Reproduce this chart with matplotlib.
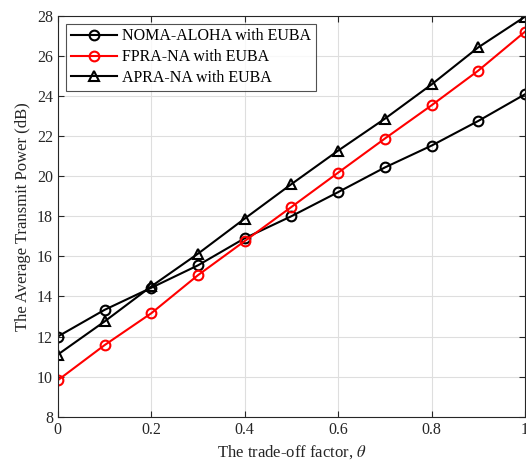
import numpy as np
import matplotlib
matplotlib.use('Agg')
import matplotlib.pyplot as plt

theta = [0, 0.1, 0.2, 0.3, 0.4, 0.5, 0.6, 0.7, 0.8, 0.9, 1.0]
noma_aloha = [12.0, 13.33, 14.43, 15.55, 16.9, 18.0, 19.2, 20.43, 21.52, 22.75, 24.08]
fpra_na = [9.82, 11.57, 13.16, 15.06, 16.76, 18.46, 20.17, 21.87, 23.53, 25.26, 27.2]
apra_na = [11.1, 12.75, 14.5, 16.13, 17.88, 19.6, 21.27, 22.86, 24.57, 26.42, 27.95]

plt.rcParams['font.family'] = 'Liberation Serif'
plt.rcParams['mathtext.fontset'] = 'stix'
txt = '#262626'

fig = plt.figure(figsize=(5.26, 4.69), dpi=100)
ax = fig.add_axes([0.110, 0.1115, 0.888, 0.855])

ax.plot(theta, noma_aloha, color='black', marker='o', lw=1.5, ms=7,
        mfc='none', mew=1.5, label='NOMA-ALOHA with EUBA')
ax.plot(theta, fpra_na, color='red', marker='o', lw=1.5, ms=7,
        mfc='none', mew=1.5, label='FPRA-NA with EUBA')
ax.plot(theta, apra_na, color='black', marker='^', lw=1.5, ms=7,
        mfc='none', mew=1.5, label='APRA-NA with EUBA')

ax.set_xlim(0, 1)
ax.set_ylim(8, 28)
ax.set_xticks([0, 0.2, 0.4, 0.6, 0.8, 1])
ax.set_xticklabels(['0', '0.2', '0.4', '0.6', '0.8', '1'])
ax.set_yticks(np.arange(8, 29, 2))
ax.grid(True, color='#dedede', lw=0.8)
ax.set_axisbelow(True)
ax.tick_params(direction='in', top=True, right=True, labelsize=11.5,
               colors=txt, length=4)
for s in ax.spines.values():
    s.set_color(txt)
    s.set_linewidth(0.8)

ax.set_xlabel(r'The trade-off factor, $\theta$', fontsize=12, color=txt)
ax.set_ylabel('The Average Transmit Power (dB)', fontsize=12, color=txt)

leg = ax.legend(loc='upper left', fontsize=11.5, frameon=True, fancybox=False,
                edgecolor=txt, borderaxespad=0.5, handlelength=2.9,
                handletextpad=0.3, borderpad=0.3, labelspacing=0.3)
leg.get_frame().set_linewidth(0.8)
for t in leg.get_texts():
    t.set_color('black')

fig.savefig('out.png', dpi=100)
